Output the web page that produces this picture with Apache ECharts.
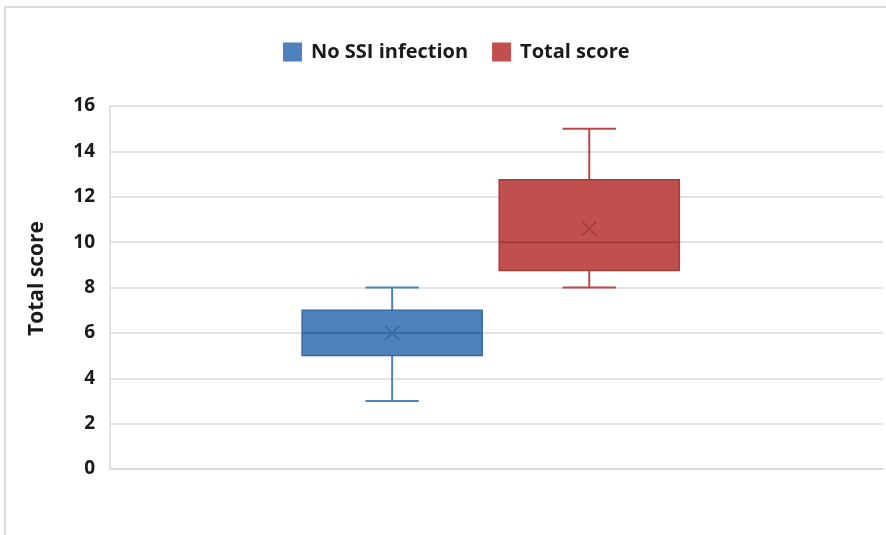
<!DOCTYPE html>
<html>
<head>
<meta charset="utf-8">
<style>
  html, body { margin: 0; padding: 0; background: #fff; }
  #chart { width: 886px; height: 535px; }
</style>
<script src="https://cdn.jsdelivr.net/npm/echarts@6/dist/echarts.min.js"></script>
</head>
<body>
<div id="chart"></div>
<script>
// 数据: [min, Q1, median, Q3, max] 与均值
var categories = [''];
var seriesNames = ['No SSI infection', 'Total score'];
var noSsiBox = [3, 5, 6, 7, 8];
var noSsiMean = 6;
var totalBox = [8, 8.75, 10, 12.75, 15];
var totalMean = 10.6;
var yMin = 0;
var yMax = 16;
var yStep = 2;

// 箱体相对类目带宽的位置与宽度
var BOX_WIDTH = 0.233;
var CAP_WIDTH = 0.069;
var FONT = 'Open Sans';

var chart = echarts.init(document.getElementById('chart'));

function boxRenderer(offset, fill, stroke, dark) {
  return function (params, api) {
    var cat = api.value(0);
    var band = api.size([1, 0])[0];
    var cx = api.coord([cat, 0])[0] + offset * band;
    var half = band * BOX_WIDTH / 2;
    var cap = band * CAP_WIDTH / 2;
    var y = function (i) { return api.coord([cat, api.value(i)])[1]; };
    var yLo = y(1), yQ1 = y(2), yMed = y(3), yQ3 = y(4), yHi = y(5), yMean = y(6);
    var line = { stroke: stroke, lineWidth: 2 };
    var m = 7;
    return {
      type: 'group',
      children: [
        // 须线
        { type: 'line', shape: { x1: cx, y1: yLo, x2: cx, y2: yQ1 }, style: line },
        { type: 'line', shape: { x1: cx, y1: yQ3, x2: cx, y2: yHi }, style: line },
        { type: 'line', shape: { x1: cx - cap, y1: yLo, x2: cx + cap, y2: yLo }, style: line },
        { type: 'line', shape: { x1: cx - cap, y1: yHi, x2: cx + cap, y2: yHi }, style: line },
        // 箱体
        {
          type: 'rect',
          shape: { x: cx - half, y: yQ3, width: half * 2, height: yQ1 - yQ3 },
          style: { fill: fill, stroke: dark, lineWidth: 1.5 }
        },
        // 中位数
        { type: 'line', shape: { x1: cx - half, y1: yMed, x2: cx + half, y2: yMed }, style: { stroke: dark, lineWidth: 2 } },
        // 均值 ×
        { type: 'line', shape: { x1: cx - m, y1: yMean - m, x2: cx + m, y2: yMean + m }, style: { stroke: dark, lineWidth: 1.5 } },
        { type: 'line', shape: { x1: cx - m, y1: yMean + m, x2: cx + m, y2: yMean - m }, style: { stroke: dark, lineWidth: 1.5 } }
      ]
    };
  };
}

chart.setOption({
  animation: false,
  textStyle: { fontFamily: FONT, color: '#262626' },
  graphic: [{
    type: 'rect',
    shape: { x: 5, y: 7, width: 1000, height: 1000 },
    style: { fill: 'none', stroke: '#dcdcdc', lineWidth: 2 },
    silent: true
  }],
  legend: {
    data: seriesNames,
    top: 37,
    left: 278,
    icon: 'rect',
    itemWidth: 19,
    itemHeight: 19,
    itemGap: 24,
    textStyle: { fontSize: 20, fontWeight: 'bold', color: '#1a1a1a', fontFamily: FONT, padding: [0, 0, 0, 4] }
  },
  grid: { left: 110, right: 3, top: 106, bottom: 66 },
  xAxis: {
    type: 'category',
    data: categories,
    axisLine: { lineStyle: { color: '#d9d9d9', width: 1.5 } },
    axisTick: { show: false },
    axisLabel: { show: false }
  },
  yAxis: {
    type: 'value',
    min: yMin,
    max: yMax,
    interval: yStep,
    name: 'Total score',
    nameLocation: 'middle',
    nameGap: 62,
    nameTextStyle: { fontSize: 21, fontWeight: 'bold', color: '#1a1a1a', fontFamily: FONT, padding: [0, 0, 0, 18] },
    axisLine: { show: true, lineStyle: { color: '#d9d9d9', width: 1.5 } },
    axisTick: { show: false },
    axisLabel: { fontSize: 19, fontWeight: 'bold', color: '#1a1a1a', margin: 15, fontFamily: FONT },
    splitLine: { lineStyle: { color: '#d9d9d9', width: 1.5 } }
  },
  series: [
    {
      name: seriesNames[0],
      type: 'custom',
      itemStyle: { color: '#4f81bd' },
      encode: { x: 0, y: [1, 2, 3, 4, 5, 6] },
      renderItem: boxRenderer(-0.135, '#4f81bd', '#4f81bd', '#3a68a3'),
      data: [[0].concat(noSsiBox, [noSsiMean])]
    },
    {
      name: seriesNames[1],
      type: 'custom',
      itemStyle: { color: '#c0504d' },
      encode: { x: 0, y: [1, 2, 3, 4, 5, 6] },
      renderItem: boxRenderer(0.12, '#c0504d', '#b84a47', '#a03e3b'),
      data: [[0].concat(totalBox, [totalMean])]
    }
  ]
});
</script>
</body>
</html>
